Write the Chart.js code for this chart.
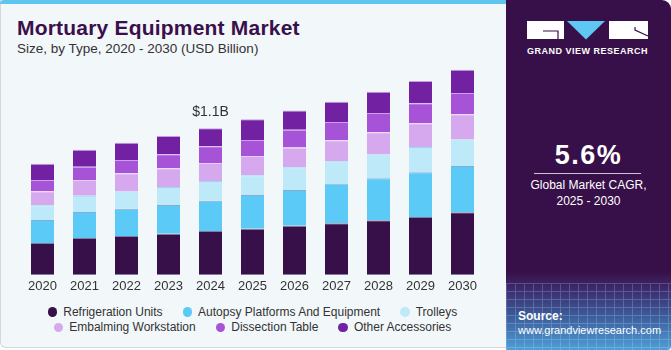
<!DOCTYPE html>
<html>
<head>
<meta charset="utf-8">
<script src="https://cdn.jsdelivr.net/npm/chart.js@4.4.1/dist/chart.umd.min.js"></script>
<style>
  html, body { margin:0; padding:0; background:#ffffff; }
  body { width:671px; height:350px; position:relative; overflow:hidden; font-family:"Liberation Sans", Arial, sans-serif; }
  #left { position:absolute; left:0; top:0; width:512px; height:348px; background:#f2f7fa;
          border-left:1px solid #d3d8dc; border-bottom:1px solid #d3d8dc; border-bottom-left-radius:6px; box-sizing:border-box; }
  #strip { position:absolute; left:0; top:0; width:512px; height:4px; background:#5ec6ee; border-top-left-radius:4px; }
  #title { position:absolute; left:17px; top:17px; font-size:21px; line-height:21px; font-weight:bold; color:#3a0f4b; letter-spacing:0.2px; white-space:nowrap; }
  #subtitle { position:absolute; left:17px; top:42px; font-size:13.5px; line-height:13.5px; color:#333; white-space:nowrap; }
  #chartWrap { position:absolute; left:0; top:0; width:505px; height:300px; }
  #legend { position:absolute; left:0; top:304px; width:505px; font-size:12px; color:#333; }
  .lrow { display:flex; justify-content:center; align-items:center; height:15.5px; }
  .litem { display:flex; align-items:center; margin:0 10px; white-space:nowrap; }
  .ldot { width:9.5px; height:9.5px; border-radius:50%; margin-right:6px; display:inline-block; }
  #panel { position:absolute; left:506px; top:0; width:165px; height:350px; border-top-right-radius:9px; border-bottom-right-radius:4px; overflow:hidden;
           background:linear-gradient(to bottom, #381049 0px, #381049 272px, #3d2a6c 288px, #3c5a98 315px, #4f9fd8 350px); }
  #grid { position:absolute; left:0; top:283px; width:165px; height:67px; opacity:0.22;
          background-image:repeating-linear-gradient(to right, #cfe8ff 0 1px, transparent 1px 9px), repeating-linear-gradient(to bottom, #cfe8ff 0 1px, transparent 1px 8px); }
  .pt { position:absolute; color:#fff; white-space:nowrap; }
</style>
</head>
<body>
<div id="left"></div>
<div id="strip"></div>
<div id="title">Mortuary Equipment Market</div>
<div id="subtitle">Size, by Type, 2020 - 2030 (USD Billion)</div>
<div id="chartWrap"><canvas id="c" width="505" height="300"></canvas></div>
<div id="legend"></div>

<div id="panel">
  <div id="grid"></div>
  <svg style="position:absolute;left:0;top:0" width="165" height="60">
    <rect x="21" y="21" width="37" height="18" fill="#ffffff"/>
    <path d="M37 31 L52 31 L52 39" stroke="#381049" stroke-width="1.2" fill="none"/>
    <polygon points="61,21 99,21 80,39.5" fill="#5ec8f3"/>
    <rect x="103" y="21" width="39" height="18" fill="#ffffff"/>
    <path d="M129 27 L129 30 L142 36" stroke="#381049" stroke-width="1.2" fill="none"/>
  </svg>
  <div class="pt" style="left:21px;top:47px;font-size:9px;line-height:9px;font-weight:bold;letter-spacing:0.5px;">GRAND VIEW RESEARCH</div>
  <div class="pt" style="left:0;width:165px;text-align:center;top:142px;font-size:27px;line-height:27px;font-weight:bold;letter-spacing:1.5px;">5.6%</div>
  <div style="position:absolute;left:28px;top:173px;width:107px;height:1px;background:rgba(255,255,255,0.75);"></div>
  <div class="pt" style="left:0;width:165px;text-align:center;top:179px;font-size:12px;line-height:12px;">Global Market CAGR,</div>
  <div class="pt" style="left:0;width:165px;text-align:center;top:195px;font-size:12px;line-height:12px;">2025 - 2030</div>
  <div class="pt" style="left:12px;top:310px;font-size:12px;line-height:12px;font-weight:bold;">Source:</div>
  <div class="pt" style="left:12px;top:324px;font-size:11px;line-height:12px;">www.grandviewresearch.com</div>
</div>

<script>
const years = ['2020','2021','2022','2023','2024','2025','2026','2027','2028','2029','2030'];
const seriesNames = ['Refrigeration Units','Autopsy Platforms And Equipment','Trolleys','Embalming Workstation','Dissection Table','Other Accessories'];
const seriesColors = ['#37104a','#5ccaf6','#bee9f9','#d6a9ee','#a653d8','#7121a1'];
const refrigeration = [0.240,0.278,0.293,0.310,0.330,0.347,0.370,0.388,0.410,0.435,0.470];
const autopsy       = [0.173,0.195,0.203,0.215,0.227,0.253,0.268,0.298,0.315,0.335,0.347];
const trolleys      = [0.110,0.122,0.130,0.135,0.148,0.148,0.170,0.167,0.178,0.190,0.200];
const embalming     = [0.105,0.118,0.137,0.140,0.135,0.145,0.148,0.158,0.167,0.178,0.188];
const dissection    = [0.085,0.098,0.100,0.105,0.125,0.120,0.133,0.137,0.145,0.150,0.160];
const otherAcc      = [0.122,0.128,0.128,0.137,0.135,0.155,0.145,0.152,0.160,0.167,0.175];
const annotationYear = '2024';
const annotationText = '$1.1B';

const seriesData = [refrigeration, autopsy, trolleys, embalming, dissection, otherAcc];
const borderCols = ['rgba(120,110,150,0.9)','rgba(60,120,190,0.6)','rgba(150,210,240,0.9)','rgba(230,200,245,0.9)','rgba(200,150,235,0.9)','rgba(190,150,220,0.9)'];

const datasets = seriesNames.map((name, i) => ({
  label: name,
  data: seriesData[i],
  backgroundColor: seriesColors[i],
  borderColor: borderCols[i],
  borderWidth: i === 0 ? {top:1, bottom:1, left:0, right:0} : {top:1, bottom:0, left:0, right:0},
  borderSkipped: false,
  categoryPercentage: 1.0,
  barPercentage: 0.548
}));

const annotatePlugin = {
  id: 'annot',
  afterDatasetsDraw(chart) {
    const idx = years.indexOf(annotationYear);
    let total = 0;
    seriesData.forEach(s => total += s[idx]);
    const x = chart.scales.x.getPixelForValue(idx);
    const y = chart.scales.y.getPixelForValue(total);
    const ctx = chart.ctx;
    ctx.save();
    ctx.font = '14px "Liberation Sans", Arial, sans-serif';
    ctx.fillStyle = '#333333';
    ctx.textAlign = 'center';
    ctx.textBaseline = 'middle';
    ctx.fillText(annotationText, x, y - 16.5);
    ctx.restore();
  }
};

new Chart(document.getElementById('c'), {
  type: 'bar',
  data: { labels: years, datasets },
  options: {
    responsive: false,
    animation: false,
    devicePixelRatio: 1,
    layout: { padding: { left: 21.5, right: 21.5, top: 55, bottom: 5 } },
    plugins: { legend: { display: false }, tooltip: { enabled: false } },
    scales: {
      x: {
        stacked: true,
        grid: { display: false, drawTicks: false },
        border: { display: false },
        ticks: { color: '#333', font: { family: '"Liberation Sans", Arial, sans-serif', size: 13 }, padding: 4, maxRotation: 0 },
        afterFit(scale) { scale.height = 20; }
      },
      y: {
        stacked: true,
        display: false,
        min: 0,
        max: 1.65
      }
    }
  },
  plugins: [annotatePlugin]
});

const legendEl = document.getElementById('legend');
const rows = [[0,1,2],[3,4,5]];
rows.forEach(r => {
  const row = document.createElement('div');
  row.className = 'lrow';
  r.forEach(i => {
    const it = document.createElement('div');
    it.className = 'litem';
    const d = document.createElement('span');
    d.className = 'ldot';
    d.style.background = seriesColors[i];
    it.appendChild(d);
    it.appendChild(document.createTextNode(seriesNames[i]));
    row.appendChild(it);
  });
  legendEl.appendChild(row);
});
</script>
</body>
</html>
